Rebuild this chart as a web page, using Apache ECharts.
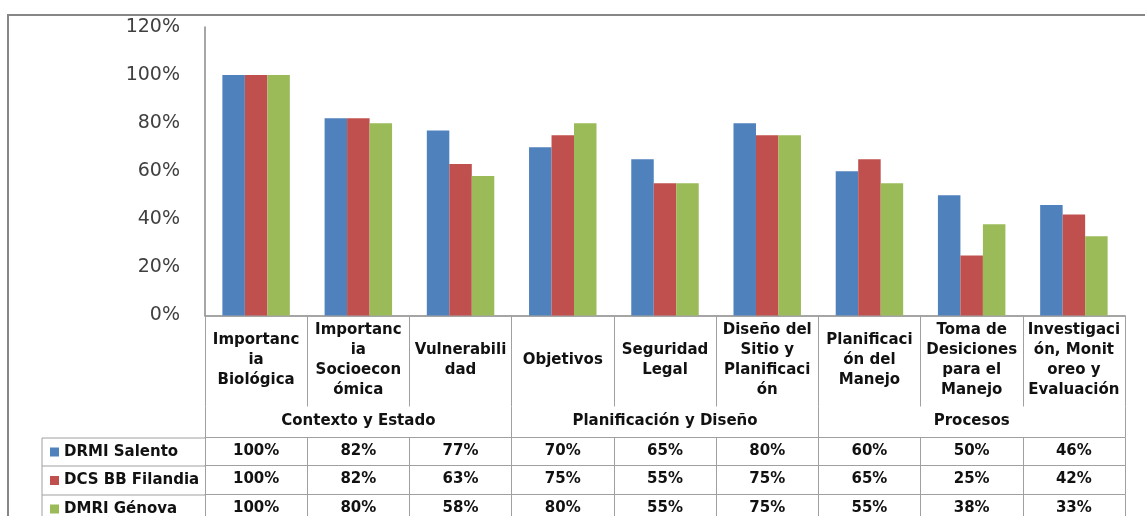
<!DOCTYPE html>
<html>
<head>
<meta charset="utf-8">
<script src="https://cdn.jsdelivr.net/npm/echarts@6/dist/echarts.min.js"></script>
<style>
  html, body { margin: 0; padding: 0; background: #fff; }
  #chart { width: 1145px; height: 516px; }
</style>
</head>
<body>
<div id="chart"></div>
<script>
// category labels as they are wrapped in the table
const categories = [
  "Importanc\nia\nBiológica",
  "Importanc\nia\nSocioecon\nómica",
  "Vulnerabili\ndad",
  "Objetivos",
  "Seguridad\nLegal",
  "Diseño del\nSitio y\nPlanificaci\nón",
  "Planificaci\nón del\nManejo",
  "Toma de\nDesiciones\npara el\nManejo",
  "Investigaci\nón, Monit\noreo y\nEvaluación"
];
const groups = ["Contexto y Estado", "Planificación y Diseño", "Procesos"];
const seriesNames = ["DRMI Salento", "DCS BB Filandia", "DMRI Génova"];

const salento = [100, 82, 77, 70, 65, 80, 60, 50, 46];
const filandia = [100, 82, 63, 75, 55, 75, 65, 25, 42];
const genova = [100, 80, 58, 80, 55, 75, 55, 38, 33];

const colors = ["#4F81BD", "#C0504D", "#9BBB59"];
const rows = [salento, filandia, genova];

const tableFont = { fontFamily: "DejaVu Sans", fontWeight: "bold", fontSize: 15, color: "#111" };
const gridLine = "#a0a0a0";

const chart = echarts.init(document.getElementById("chart"));

// one extra x axis per table row, stacked under the plot with offset
const rowOffsets = [122, 150, 179];
const rowAxes = rows.map((vals, k) => ({
  type: "category",
  data: categories,
  position: "bottom",
  offset: rowOffsets[k],
  axisLine: { show: true, lineStyle: { color: gridLine, width: 1 } },
  axisTick: { show: true, interval: 0, length: 29, lineStyle: { color: gridLine } },
  axisLabel: Object.assign({
    interval: 0,
    margin: 14,
    verticalAlign: "middle",
    formatter: (v, i) => vals[i] + "%"
  }, tableFont)
}));

const option = {
  animation: false,
  color: colors,
  grid: { left: 205, right: 20, top: 27, bottom: 200 },
  legend: {
    data: seriesNames,
    orient: "vertical",
    left: 50,
    top: 444,
    height: 120,
    padding: 0,
    itemWidth: 9,
    itemHeight: 9,
    itemGap: 12.5,
    icon: "rect",
    selectedMode: false,
    textStyle: Object.assign({ lineHeight: 16 }, tableFont)
  },
  xAxis: [
    {
      type: "category",
      data: categories,
      axisLine: { lineStyle: { color: "#888", width: 1.5 } },
      axisTick: { show: true, interval: 0, length: 91, lineStyle: { color: gridLine } },
      axisLabel: Object.assign({
        interval: 0,
        margin: 45,
        verticalAlign: "middle",
        lineHeight: 20
      }, tableFont)
    },
    {
      type: "category",
      data: categories,
      position: "bottom",
      offset: 91,
      axisLine: { show: false },
      axisTick: { show: true, interval: (i) => i % 3 === 0, length: 31, lineStyle: { color: gridLine } },
      axisLabel: Object.assign({
        interval: 0,
        margin: 15,
        verticalAlign: "middle",
        formatter: (v, i) => (i % 3 === 1 ? groups[(i - 1) / 3] : "")
      }, tableFont)
    }
  ].concat(rowAxes),
  yAxis: {
    type: "value",
    min: 0,
    max: 120,
    interval: 20,
    axisLine: { show: true, lineStyle: { color: "#888", width: 1.5 } },
    axisTick: { show: false },
    splitLine: { show: false },
    axisLabel: {
      formatter: "{value}%",
      margin: 25,
      fontFamily: "DejaVu Sans",
      fontSize: 19,
      color: "#404040"
    }
  },
  series: [salento, filandia, genova].map((d, k) => ({
    name: seriesNames[k],
    type: "bar",
    data: d,
    barGap: "0%",
    barCategoryGap: "34%"
  })),
  graphic: [
    // outer chart frame
    { type: "rect", shape: { x: 8, y: 15, width: 1160, height: 520 },
      style: { fill: "none", stroke: "#868686", lineWidth: 2 } },
    // legend column of the table
    { type: "line", shape: { x1: 42, y1: 438, x2: 205, y2: 438 }, style: { stroke: gridLine } },
    { type: "line", shape: { x1: 42, y1: 466, x2: 205, y2: 466 }, style: { stroke: gridLine } },
    { type: "line", shape: { x1: 42, y1: 495, x2: 205, y2: 495 }, style: { stroke: gridLine } },
    { type: "line", shape: { x1: 42, y1: 438, x2: 42, y2: 520 }, style: { stroke: gridLine } }
  ]
};

chart.setOption(option);
</script>
</body>
</html>
